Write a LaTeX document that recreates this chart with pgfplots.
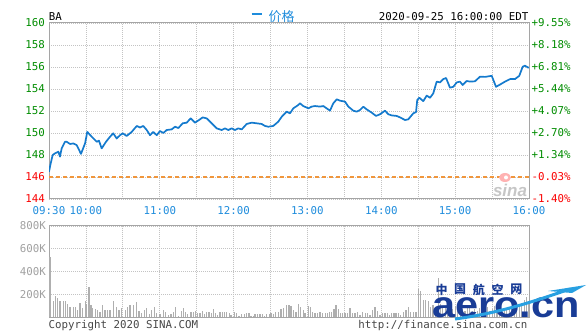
\documentclass[border=0pt]{standalone}
\usepackage{pgfplots}
\pgfplotsset{compat=1.18}
\usepackage{fontspec}
\setmainfont{DejaVu Sans Mono}
\newfontfamily\cjk{Noto Sans CJK SC}
\newfontfamily\logofont{Liberation Sans}
\definecolor{pgreen}{RGB}{0,140,0}
\definecolor{pred}{RGB}{250,0,0}
\definecolor{tblue}{RGB}{30,140,220}
\definecolor{lblue}{RGB}{20,122,205}
\definecolor{dorange}{RGB}{240,150,60}
\definecolor{gridgray}{RGB}{195,195,195}
\definecolor{bordergray}{RGB}{165,165,165}
\definecolor{volgray}{RGB}{175,175,175}
\definecolor{vlab}{RGB}{160,160,160}
\definecolor{txtgray}{RGB}{70,70,70}
\definecolor{logoblue}{RGB}{25,60,150}
\definecolor{swoosh}{RGB}{40,160,225}
\newcommand\lab{\fontsize{10.8}{12}\selectfont}
\pgfplotsset{
  chartframe/.style={
    scale only axis, width=480pt, xmin=0, xmax=390,
    axis line style={draw=bordergray, line width=1pt},
    major tick length=0pt, tick style={draw=none},
    xtick={0,30,...,390},
    grid=major, grid style={gridgray, dash pattern=on 1pt off 1pt, line width=0.8pt},
    ticklabel style={font=\lab, inner sep=0pt},
  }
}
\begin{document}
\begin{tikzpicture}[x=1pt,y=1pt]
\useasboundingbox (0,0) rectangle (588,331);
% price panel
\begin{axis}[chartframe, at={(49pt,132pt)}, anchor=south west, height=176pt,
  ymin=144, ymax=160, ytick={144,146,...,160},
  xticklabels={09:30,10:00,,11:00,,12:00,,13:00,,14:00,,15:00,,16:00},
  xticklabel style={anchor=center, yshift=-12pt, text=tblue},
  yticklabels={\textcolor{pred}{144},\textcolor{pred}{146},\textcolor{pgreen}{148},\textcolor{pgreen}{150},\textcolor{pgreen}{152},\textcolor{pgreen}{154},\textcolor{pgreen}{156},\textcolor{pgreen}{158},\textcolor{pgreen}{160}},
  yticklabel style={anchor=east, xshift=-4pt},
]
\addplot[dorange, line width=1.2pt, dash pattern=on 4pt off 3pt] coordinates {(0,146) (390,146)};
\addplot[lblue, line width=1.7pt, line join=round] coordinates {
(0,146.48)(1.4,147.25)(3,148.0)(4.9,148.15)(7.6,148.3)(8.9,147.85)(10.3,148.6)(13,149.2)(14.4,149.2)(17.1,149.0)(19.7,149.05)(22.5,148.9)(26,148.1)(29.3,149.06)(31.1,150.1)(34.7,149.66)(38.8,149.2)(40.6,149.3)(42.8,148.6)(46.3,149.2)(49.6,149.66)(52.2,149.97)(55,149.5)(57.7,149.8)(59.9,149.97)(63.1,149.73)(67.2,150.1)(71.3,150.64)(73.9,150.5)(76.6,150.64)(79.4,150.27)(82.1,149.8)(84.7,150.1)(87.5,149.8)(90.2,150.18)(92.9,150.0)(95.6,150.27)(99.7,150.33)(102.4,150.57)(105.1,150.45)(108.6,150.88)(111.9,150.94)(115.1,151.33)(118.6,150.94)(121.9,151.18)(124.9,151.42)(128.1,151.33)(132.2,150.88)(136.3,150.42)(140.3,150.27)(143,150.42)(145.7,150.27)(148.4,150.42)(151.1,150.27)(153.8,150.42)(156.6,150.33)(160.6,150.82)(164.7,150.94)(168.8,150.88)(172.8,150.82)(175.5,150.64)(178.2,150.57)(182.2,150.64)(186.3,151.03)(189.1,151.48)(193.1,151.94)(195.8,151.79)(198.5,152.24)(202.6,152.55)(203.9,152.7)(206.6,152.45)(210.7,152.24)(213.4,152.4)(216.1,152.45)(220.2,152.4)(222.9,152.45)(225.6,152.24)(228.3,152.03)(231,152.7)(233.8,153.06)(236.4,152.94)(240.5,152.85)(243.2,152.4)(247.2,152.03)(250,151.94)(252.7,152.09)(255.4,152.39)(258.1,152.15)(262.2,151.85)(265.7,151.55)(268.9,151.7)(273,152.03)(275.7,151.7)(278.4,151.6)(282.5,151.55)(285.2,151.42)(289.3,151.18)(291.9,151.24)(296,151.79)(298.2,151.9)(299.2,153.0)(300.9,153.2)(304.1,152.9)(306.9,153.4)(309.6,153.2)(312.2,153.6)(315,154.67)(317.7,154.6)(320.4,154.9)(322.6,155.0)(325.8,154.12)(328.5,154.2)(331.3,154.6)(333.9,154.67)(336.1,154.36)(339.4,154.73)(342.1,154.67)(346.1,154.7)(350.2,155.12)(354.3,155.1)(359.7,155.2)(363.2,154.2)(366.4,154.4)(370.5,154.67)(374.6,154.9)(378.6,154.9)(382.1,155.2)(384.9,156.03)(386.7,156.12)(389.4,155.94)(390,155.95)
};
\end{axis}
% right percentage labels
\begin{axis}[scale only axis, width=480pt, height=176pt, at={(49pt,132pt)}, anchor=south west,
  xmin=0, xmax=390, ymin=144, ymax=160, hide x axis, axis y line*=right,
  y axis line style={draw=none}, major tick length=0pt, tick style={draw=none},
  ytick={144,146,...,160},
  yticklabels={\textcolor{pred}{-1.40\%},\textcolor{pred}{-0.03\%},\textcolor{pgreen}{+1.34\%},\textcolor{pgreen}{+2.70\%},\textcolor{pgreen}{+4.07\%},\textcolor{pgreen}{+5.44\%},\textcolor{pgreen}{+6.81\%},\textcolor{pgreen}{+8.18\%},\textcolor{pgreen}{+9.55\%}},
  yticklabel style={anchor=west, xshift=2.5pt, font=\lab, inner sep=0pt},
]
\end{axis}
% volume panel
\begin{axis}[chartframe, at={(49pt,13.5pt)}, anchor=south west, height=91.5pt,
  ymin=0, ymax=800, ytick={0,200,400,600,800},
  xticklabels={},
  yticklabels={,200K,400K,600K,800K},
  yticklabel style={anchor=east, xshift=-3pt, text=vlab},
]
\addplot[ycomb, draw=volgray, line width=1.1pt] coordinates {
(0.8,527)(3.5,145)(5.4,184)(7,169)(8.9,140)(11.6,145)(13.5,145)(15.2,116)(17.1,95)(19.8,90)(21.7,90)(23.3,66)(25.2,125)(27.1,87)(29.3,140)(30.6,116)(32.5,263)(34.1,110)(35.2,87)(37.9,75)(39.6,66)(41.4,46)(43.3,105)(45.5,66)(47.7,66)(49.6,66)(52.3,145)(55,95)(56.9,66)(59.1,87)(61.8,66)(63.9,95)(65.8,105)(68.5,110)(71.3,134)(73.1,57)(75.3,37)(77.5,66)(79.4,80)(81.3,28)(83.4,66)(85.6,95)(87.5,37)(90.2,28)(92.9,66)(94.8,46)(96.9,20)
(99.1,28)(101,51)(102.9,90)(105.1,16)(107.3,57)(109.1,80)(111.1,51)(112.7,28)(115.4,51)(117.3,46)(119.2,60)(120.8,37)(122.7,37)(124.6,57)(126.2,28)(128.1,46)(130,46)(131.8,40)(133.5,75)(135.4,37)(137.1,22)(138.9,51)(140.8,51)(142.4,51)(144.4,51)(146.3,37)(147.9,22)(150.6,51)(152.5,37)(154.4,16)(156.6,28)(158.7,28)(160.6,37)(162.5,37)(164.1,16)(166,16)(167.4,28)(169.6,28)(171.4,28)(173.3,28)(174.9,16)(176.9,28)(178.8,28)(180.4,37)(182.2,28)(184.2,46)(186.3,51)(188.5,72)(190.4,80)(193.1,110)(195,110)(196.6,104)(198.5,66)
(200.7,51)(202.6,119)(204.5,90)(206.6,66)(208,42)(210.7,101)(212.6,90)(214.3,51)(216.1,42)(218,37)(220.2,51)(222.4,37)(224.3,37)(226.1,37)(227.7,51)(229.7,51)(231.6,75)(233.2,110)(235.1,75)(237,42)(238.6,37)(240.5,42)(242.4,37)(244.6,84)(246.8,42)(248.6,42)(250.5,51)(252.7,22)(254.9,51)(256.8,42)(258.6,37)(260.8,22)(263,66)(264.9,90)(266.7,60)(268.9,22)(271.1,42)(273,37)(274.9,37)(276.5,22)(278.4,42)(280.3,42)(281.9,42)(283.8,42)(285.7,22)(287.9,51)(290.1,66)(291.9,90)(293.9,51)(296,51)(298.2,51)(300,248)
(302,230)(304,150)(306,150)(308,140)(310,95)(312,110)(314,80)(316.3,348)(318,120)(320,100)(322,90)(324,130)(326,80)(328,70)(330,100)(332,60)(334,90)(336,70)(338,60)(340,80)(342,90)(344,60)(346,70)(348,55)(350,80)(352,60)(354,70)(356,90)(358,60)(360,70)(362,100)(364,80)(366,60)(368,70)(370,60)(372,80)(374,70)(376,90)(378,100)(380,80)(382,110)(384,130)(386,150)(388,183)(389.6,120)
};
\end{axis}
% header texts
\node[anchor=west, inner sep=0pt, font=\lab] at (48.7,314.7) {BA};
\draw[tblue, line width=2pt] (251.7,316.7) -- (261.7,316.7);
\node[inner sep=0pt, text=tblue] at (281.5,314.5) {\cjk\fontsize{13}{13}\selectfont 价格};
\node[anchor=east, inner sep=0pt, font=\lab] at (528.5,314.7) {2020-09-25 16:00:00 EDT};
% footer texts
\node[anchor=base west, inner sep=0pt, font=\lab, text=txtgray] at (48.3,2) {Copyright 2020 SINA.COM};
\node[anchor=base east, inner sep=0pt, font=\lab, text=txtgray] at (527.5,2) {http://finance.sina.com.cn};
% sina watermark
\fill[red!30] (505,153.5) ellipse (6 and 4.5);
\fill[white] (506,153.5) circle (2);
\node[inner sep=0pt, text=gray!45] at (510,141) {\logofont\bfseries\itshape\fontsize{17}{17}\selectfont sina};
% aero.cn logo
\foreach \c [count=\i from 0] in {中,国,航,空,网}
  \node[inner sep=0pt, text=logoblue] at (441.5+18.7*\i,41.5) {\cjk\bfseries\fontsize{12}{12}\selectfont \c};
\node[anchor=base west, inner sep=0pt, text=logoblue, xscale=1.12] at (432,13.5) {\logofont\bfseries\fontsize{37}{37}\selectfont aero.cn};
\draw[swoosh, line width=3pt] (455,12) .. controls (500,18) and (535,30) .. (570,42);
\fill[swoosh] (548,40) -- (586,46) -- (572,38) -- cycle;
\end{tikzpicture}
\end{document}
